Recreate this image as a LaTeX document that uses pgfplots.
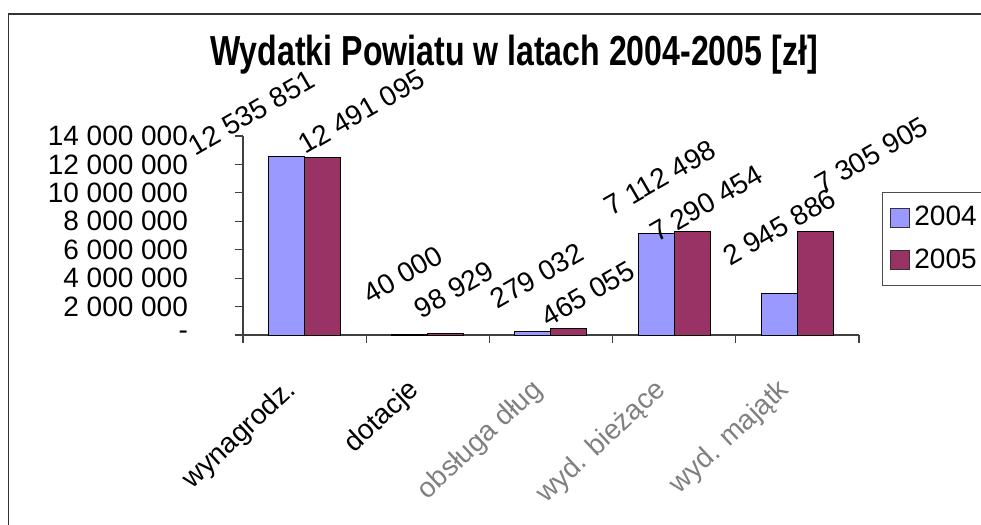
\documentclass[border=0pt]{standalone}
\usepackage{graphicx}
\usepackage{pgfplots}
\pgfplotsset{compat=1.18}
\usepackage{pgfplotstable}
\usepackage{fontspec}
\setmainfont{Liberation Sans}
\definecolor{s2004}{HTML}{9999FF}
\definecolor{s2005}{HTML}{993366}

% x = category, y = value, lab = printed label, dx/dy = label offset (px)
\pgfplotstableread[col sep=comma]{
x,y,lab,dx,dy
0,12535851,12 535 851,-35,44
1,40000,40 000,-7,60
2,279032,279 032,4,55
3,7112498,7 112 498,4,56
4,2945886,2 945 886,0,66
}\tabA
\pgfplotstableread[col sep=comma]{
x,y,lab,dx,dy
0,12491095,12 491 095,39,46
1,98929,98 929,8,44
2,465055,465 055,19,35
3,7290454,7 290 454,14,28
4,7305905,7 305 905,56,76
}\tabB

\begin{document}
\begin{tikzpicture}
\useasboundingbox (0,0) rectangle (490.5pt,-262.5pt);
\clip (0,0) rectangle (490.5pt,-262.5pt);
\draw[black!80, line width=0.8pt] (4.3pt,-7pt) rectangle (600pt,-400pt);
\begin{axis}[
  at={(121.5pt,-167.5pt)}, anchor=south west,
  scale only axis, width=308pt, height=99.5pt,
  ybar=0pt, bar width=18pt,
  xmin=-0.5, xmax=4.5, ymin=0, ymax=14000000,
  axis x line*=bottom, axis y line*=left,
  axis line style={black!75, line width=0.6pt},
  tick style={black!75, line width=0.6pt},
  tick align=outside, major tick length=4pt,
  xtick={-0.5,0.5,1.5,2.5,3.5,4.5},
  x tick label as interval,
  xticklabels={wynagrodz., dotacje, \textcolor{black!50}{obsługa dług},
    \textcolor{black!50}{wyd. bieżące}, \textcolor{black!50}{wyd. majątk}},
  xticklabel style={xshift=-3.6pt, yshift=-19.3pt, rotate=43, anchor=east},
  ytick={0,2000000,4000000,6000000,8000000,10000000,12000000,14000000},
  yticklabels={-,2 000 000,4 000 000,6 000 000,8 000 000,10 000 000,12 000 000,14 000 000},
  scaled y ticks=false,
  yticklabel style={xshift=-20pt},
  tick label style={font=\fontsize{14}{16}\selectfont},
  title={\scalebox{0.764}[1]{\fontsize{21}{24}\selectfont\bfseries Wydatki Powiatu w latach 2004-2005 [zł]}},
  title style={at={(0.440,1.2915)}, anchor=base},
  legend style={at={(1.0373,0.7186)}, anchor=north west, draw=black!70,
    font=\fontsize{14}{16}\selectfont, row sep=6pt, inner xsep=4pt, inner ysep=5pt},
  legend cell align=left,
  nodes near coords={\pgfplotspointmeta},
  point meta=explicit symbolic,
  visualization depends on={\thisrow{dx} \as \dx},
  visualization depends on={\thisrow{dy} \as \dy},
  nodes near coords align={anchor=center},
  every node near coord/.append style={font=\fontsize{14}{16}\selectfont,
    xshift=0.5pt*\dx, yshift=0.5pt*\dy, rotate=30, anchor=center, inner sep=0pt},
]
\addplot[fill=s2004, draw=black, line width=0.5pt,
  legend image code/.code={\draw[fill=s2004, draw=black!80] (0pt,-4.7pt) rectangle (9.5pt,4.7pt);}]
  table[x=x, y=y, meta=lab] {\tabA};
\addplot[fill=s2005, draw=black, line width=0.5pt,
  legend image code/.code={\draw[fill=s2005, draw=black!80] (0pt,-4.7pt) rectangle (9.5pt,4.7pt);}]
  table[x=x, y=y, meta=lab] {\tabB};
\legend{2004,2005}
\end{axis}
\end{tikzpicture}
\end{document}
